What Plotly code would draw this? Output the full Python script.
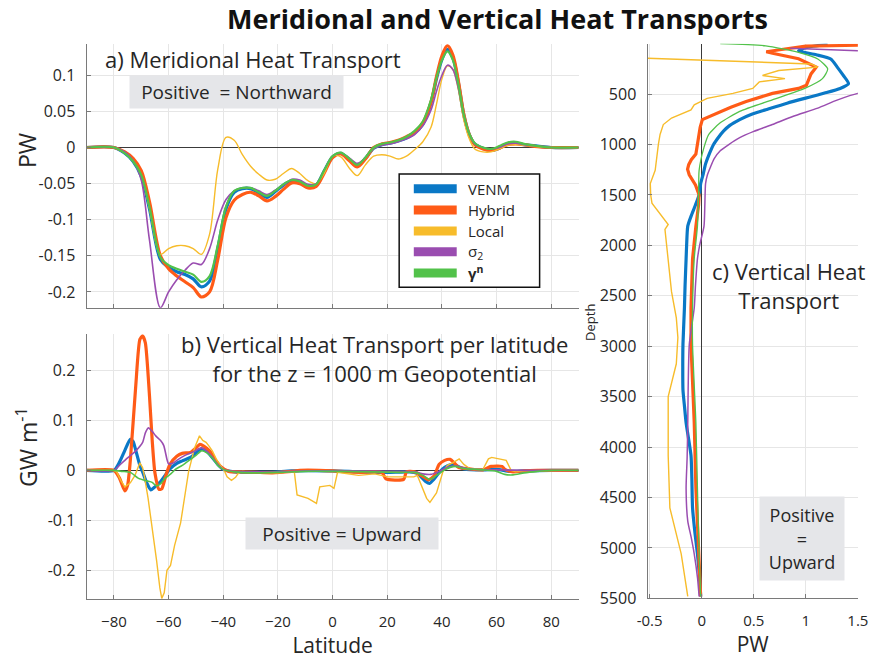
import plotly.graph_objects as go

# ---------------- data ----------------
# a) meridional heat transport (PW) vs latitude
a_lat = [-90, -80, -76, -73, -70, -67, -63, -60, -57, -54, -51, -48, -45, -42, -39, -36, -33, -30,
         -27, -24, -21, -18, -15, -12, -9, -6, -3, 0, 3, 6, 9, 12, 15, 18, 21, 24, 27, 30, 33, 36,
         38, 40, 42, 44, 46, 48, 50, 52, 55, 58, 61, 64, 67, 70, 75, 80, 90]
a_venm = [0, 0, -0.008, -0.019, -0.040, -0.085, -0.155, -0.166, -0.172, -0.176, -0.182, -0.193, -0.185,
          -0.140, -0.085, -0.062, -0.057, -0.057, -0.063, -0.069, -0.061, -0.052, -0.046, -0.048, -0.054,
          -0.052, -0.032, -0.013, -0.008, -0.016, -0.025, -0.015, -0.001, 0.004, 0.006, 0.009, 0.013,
          0.020, 0.032, 0.062, 0.095, 0.122, 0.136, 0.124, 0.090, 0.045, 0.018, 0.005, -0.001, -0.004,
          -0.001, 0.005, 0.006, 0.004, 0.002, 0, 0]
a_hybrid = [0, 0, -0.006, -0.015, -0.032, -0.075, -0.150, -0.168, -0.178, -0.186, -0.194, -0.207, -0.200,
            -0.155, -0.097, -0.073, -0.065, -0.062, -0.067, -0.074, -0.068, -0.058, -0.049, -0.050, -0.056,
            -0.054, -0.035, -0.014, -0.009, -0.018, -0.027, -0.016, 0.000, 0.005, 0.007, 0.010, 0.015,
            0.021, 0.034, 0.063, 0.098, 0.127, 0.141, 0.128, 0.092, 0.046, 0.018, 0.004, -0.002, -0.004,
            -0.001, 0.004, 0.005, 0.004, 0.001, 0, 0]
a_local = [0, 0, -0.008, -0.019, -0.038, -0.085, -0.148, -0.140, -0.136, -0.136, -0.140, -0.148, -0.120,
           -0.030, 0.014, 0.010, -0.010, -0.026, -0.037, -0.045, -0.044, -0.036, -0.029, -0.036, -0.046,
           -0.050, -0.035, -0.012, -0.013, -0.028, -0.039, -0.024, -0.012, -0.010, -0.012, -0.016, -0.012,
           -0.003, 0.008, 0.028, 0.060, 0.095, 0.113, 0.108, 0.080, 0.038, 0.012, -0.002, -0.006, -0.006,
           -0.002, 0.003, 0.004, 0.003, 0.001, 0, 0]
a_sigma2 = [0, 0, -0.006, -0.018, -0.045, -0.128, -0.222, -0.200, -0.183, -0.170, -0.160, -0.162, -0.140,
            -0.100, -0.072, -0.060, -0.056, -0.056, -0.060, -0.065, -0.059, -0.052, -0.044, -0.045, -0.051,
            -0.050, -0.031, -0.012, -0.008, -0.014, -0.022, -0.014, -0.001, 0.003, 0.005, 0.008, 0.012,
            0.018, 0.030, 0.052, 0.078, 0.100, 0.114, 0.108, 0.082, 0.044, 0.018, 0.005, 0.000, -0.002,
            0.000, 0.005, 0.006, 0.004, 0.002, 0, 0]
a_gamma = [0, 0, -0.008, -0.019, -0.038, -0.082, -0.152, -0.163, -0.168, -0.172, -0.176, -0.186, -0.178,
           -0.135, -0.082, -0.060, -0.056, -0.056, -0.062, -0.067, -0.060, -0.051, -0.045, -0.047, -0.053,
           -0.051, -0.031, -0.012, -0.007, -0.015, -0.024, -0.014, 0.000, 0.005, 0.007, 0.010, 0.015,
           0.023, 0.036, 0.066, 0.097, 0.121, 0.133, 0.121, 0.088, 0.045, 0.019, 0.006, 0.000, -0.002,
           0.002, 0.007, 0.008, 0.005, 0.002, 0, 0]

# b) vertical heat transport per latitude at z = 1000 m (GW m-1), (latitude, value)
b_venm = [(-90, 0), (-80, 0), (-78, 0.016), (-76, 0.040), (-74, 0.062), (-73, 0.058), (-72, 0.040),
          (-70.5, 0.010), (-69.5, -0.003), (-68, -0.025), (-66.5, -0.039), (-65, -0.033), (-63, -0.023),
          (-61, -0.008), (-59.5, 0.003), (-57, 0.014), (-55, 0.019), (-52, 0.026), (-50, 0.035),
          (-48, 0.043), (-46, 0.038), (-44.5, 0.029), (-42, 0.012), (-40, 0.002), (-36, -0.003),
          (-28, -0.004), (-22, -0.004), (-15, -0.001), (0, -0.001), (10, -0.003), (20, -0.004),
          (28, -0.003), (31, -0.006), (34, -0.022), (35.5, -0.026), (37, -0.018), (39, -0.004),
          (41, 0.006), (43, 0.011), (45, 0.010), (48, 0.003), (55, 0.001), (60, 0.002), (65, -0.002),
          (70, -0.001), (80, 0), (90, 0)]
b_hybrid = [(-90, 0), (-80, 0), (-78, -0.015), (-76, -0.041), (-75, -0.030), (-74, 0.020), (-72, 0.170),
            (-70.5, 0.262), (-69.5, 0.269), (-68.5, 0.255), (-67, 0.150), (-66, 0.060), (-65, -0.005),
            (-63.5, -0.038), (-62.5, -0.037), (-61, -0.010), (-59.5, 0.012), (-57, 0.028), (-55, 0.034),
            (-52, 0.036), (-50, 0.045), (-48.5, 0.052), (-47, 0.048), (-45, 0.039), (-43, 0.022),
            (-41, 0.008), (-38, -0.002), (-34, -0.003), (-28, -0.004), (-22, -0.005), (-15, -0.002),
            (-12, 0.000), (0, -0.001), (5, -0.003), (10, -0.004), (18, -0.004), (19.5, -0.017),
            (26, -0.018), (27, -0.003), (30, -0.003), (33, -0.012), (35, -0.019), (37, -0.012),
            (39, 0.012), (41, 0.020), (43, 0.022), (44.5, 0.015), (46, 0.006), (50, 0.003), (55, 0.001),
            (57, 0.006), (58, 0.008), (62, 0.008), (63, 0.002), (66, -0.003), (70, -0.001), (75, 0),
            (90, 0)]
b_local = [(-90, 0), (-80, 0), (-79, -0.003), (-77.5, -0.020), (-76, -0.033), (-74, -0.025),
           (-72.3, -0.010), (-71, 0.008), (-70.5, 0.015), (-69.5, 0.005), (-68.9, -0.010),
           (-67.5, -0.056), (-65.8, -0.121), (-64.4, -0.180), (-63.2, -0.235), (-62.5, -0.256),
           (-61.6, -0.245), (-60.6, -0.200), (-59.3, -0.190), (-57.8, -0.150), (-55.6, -0.105),
           (-54, -0.050), (-52.7, -0.003), (-50.5, 0.045), (-48.7, 0.069), (-47.5, 0.060),
           (-46.3, 0.056), (-45, 0.047), (-44, 0.039), (-42.5, 0.022), (-41, 0.010), (-39.5, -0.002),
           (-38.6, -0.013), (-37, -0.020), (-35.5, -0.014), (-34.5, -0.006), (-33, -0.002),
           (-28, -0.004), (-20, -0.005), (-14, -0.003), (-13, -0.049), (-9, -0.056), (-5.9, -0.066),
           (-4.7, -0.033), (-1, -0.030), (0.5, -0.036), (1.8, -0.004), (4, -0.006), (9.5, -0.010),
           (15.4, -0.007), (20.2, -0.013), (26, -0.013), (29.7, -0.013), (31, -0.010), (32.5, -0.030),
           (34.4, -0.056), (35.6, -0.064), (38, -0.045), (40.4, -0.002), (42, 0.010), (43.9, 0.015),
           (46.3, 0.023), (48, 0.012), (50, 0.004), (55, 0.002), (56, 0.012), (57, 0.023),
           (58.2, 0.026), (63.5, 0.020), (65.3, 0.000), (67, -0.003), (70, -0.001), (80, 0), (90, 0)]
b_sigma2 = [(-90, 0), (-80, 0), (-78, 0.010), (-75, 0.025), (-72, 0.039), (-69.5, 0.056), (-68.5, 0.075),
            (-67.4, 0.085), (-66, 0.078), (-64.7, 0.069), (-63, 0.060), (-61.8, 0.050), (-60.5, 0.020),
            (-60, 0.013), (-58.5, 0.014), (-57, 0.020), (-54, 0.030), (-51, 0.037), (-48, 0.045),
            (-45, 0.033), (-42, 0.012), (-40, 0.002), (-36, -0.002), (-28, -0.003), (-20, -0.003),
            (-10, -0.001), (0, -0.001), (20, -0.002), (30, -0.003), (33, -0.007), (36, -0.008),
            (39, -0.002), (42, 0.006), (45, 0.009), (48, 0.005), (52, 0.002), (60, 0.001), (70, 0),
            (90, 0)]
b_gamma = [(-90, 0), (-80, 0), (-77, -0.002), (-74, -0.004), (-71, -0.016), (-68, -0.021), (-66, -0.024),
           (-64.5, -0.031), (-63, -0.027), (-61.5, -0.017), (-59, -0.006), (-57.5, 0.002), (-55, 0.010),
           (-52, 0.022), (-50, 0.030), (-48, 0.039), (-46, 0.035), (-44, 0.025), (-42, 0.010),
           (-40, 0.002), (-36, -0.003), (-28, -0.005), (-20, -0.004), (-10, -0.002), (0, -0.002),
           (15, -0.003), (25, -0.004), (30, -0.004), (33, -0.010), (35.5, -0.018), (38, -0.010),
           (41, 0.001), (43, 0.006), (45, 0.008), (48, 0.004), (55, 0.001), (60, -0.002), (63, -0.008),
           (66, -0.009), (70, -0.005), (75, -0.002), (80, 0), (90, 0)]

# c) vertical heat transport (PW) vs depth (m), (depth, value)
c_venm = [(6, 1.21), (40, 1.00), (71, 0.93), (110, 1.10), (152, 1.24), (230, 1.30), (315, 1.36),
          (396, 1.41), (444, 1.33), (490, 1.18), (526, 1.05), (590, 0.82), (656, 0.615), (700, 0.48),
          (753, 0.365), (810, 0.27), (867, 0.209), (930, 0.16), (997, 0.115), (1100, 0.07),
          (1192, 0.037), (1290, 0.015), (1387, -0.010), (1484, -0.020), (1600, -0.060), (1712, -0.103),
          (1809, -0.134), (2000, -0.145), (2134, -0.150), (2400, -0.160), (2621, -0.166),
          (2979, -0.180), (3200, -0.182), (3434, -0.180), (3600, -0.165), (3758, -0.150),
          (4083, -0.103), (4300, -0.095), (4603, -0.088), (4850, -0.065), (5058, -0.041),
          (5300, -0.020), (5481, -0.010)]
c_hybrid = [(0, 2.5), (18, 1.6), (24, 1.0), (60, 0.75), (80, 0.62), (95, 0.68), (150, 0.93), (233, 1.10),
            (300, 1.05), (412, 1.006), (444, 0.93), (493, 0.68), (530, 0.56), (574, 0.427), (630, 0.28),
            (688, 0.146), (753, 0.006), (830, -0.015), (899, -0.025), (1000, -0.035), (1094, -0.056),
            (1150, -0.100), (1200, -0.125), (1245, -0.136), (1300, -0.120), (1400, -0.060),
            (1500, -0.025), (1600, -0.030), (1809, -0.056), (2134, -0.088), (2621, -0.103),
            (2979, -0.103), (3758, -0.072), (4408, -0.056), (5058, -0.031), (5481, -0.010)]
c_local = [(130, -1.2), (145, -0.52), (201, 1.05), (233, 1.115), (266, 0.74), (315, 0.584), (347, 0.80),
           (379, 0.553), (444, 0.49), (493, 0.30), (542, 0.052), (607, -0.072), (656, -0.103),
           (700, -0.20), (737, -0.29), (802, -0.369), (900, -0.40), (997, -0.416), (1256, -0.447),
           (1387, -0.494), (1500, -0.490), (1582, -0.478), (1712, -0.384), (1793, -0.322),
           (1842, -0.353), (2134, -0.322), (2459, -0.290), (2719, -0.244), (2914, -0.229),
           (3174, -0.244), (3498, -0.322), (4083, -0.322), (4603, -0.306), (5058, -0.197),
           (5481, -0.134)]
c_sigma2 = [(45, 0.85), (71, 1.5), (100, 2.2), (250, 2.8), (400, 2.2), (470, 1.7), (493, 1.5), (560, 1.3),
            (639, 1.115), (720, 0.88), (802, 0.678), (870, 0.50), (932, 0.365), (1000, 0.26),
            (1062, 0.178), (1140, 0.12), (1224, 0.084), (1300, 0.055), (1387, 0.037), (1600, 0.030),
            (1809, 0.022), (2000, -0.020), (2134, -0.041), (2400, -0.060), (2621, -0.072),
            (2979, -0.119), (3400, -0.130), (3758, -0.134), (4100, -0.140), (4408, -0.150),
            (4733, -0.134), (4900, -0.100), (5058, -0.072), (5300, -0.040), (5481, -0.025)]
c_gamma = [(0, 0.178), (22, 0.615), (87, 0.93), (152, 1.115), (250, 1.21), (347, 1.16), (444, 0.99),
           (558, 0.678), (672, 0.365), (785, 0.178), (899, 0.068), (1029, 0.022), (1256, -0.025),
           (1500, -0.030), (1809, -0.041), (2134, -0.072), (2621, -0.088), (2979, -0.088),
           (3758, -0.056), (4408, -0.041), (5058, -0.025), (5481, -0.010)]

series = ["VENM", "Hybrid", "Local", "σ<sub>2</sub>", "<b>γ<sup>n</sup></b>"]
colors = ["#0A78C6", "#FF5B17", "#F7BC2B", "#9A4DB0", "#52C24A"]

lat_ticks = [-80, -60, -40, -20, 0, 20, 40, 60, 80]
a_yticks = [-0.2, -0.15, -0.1, -0.05, 0, 0.05, 0.1]
a_ylabels = ["-0.2", "-0.15", "-0.1", "-0.05", "0", "0.05", "0.1"]
b_yticks = [-0.2, -0.1, 0, 0.1, 0.2]
b_ylabels = ["-0.2", "-0.1", "0", "0.1", "0.2"]
c_xticks = [-0.5, 0, 0.5, 1, 1.5]
c_xlabels = ["-0.5", "0", "0.5", "1", "1.5"]
depth_ticks = [500, 1000, 1500, 2000, 2500, 3000, 3500, 4000, 4500, 5000, 5500]

# ---------------- figure ----------------
W, H = 891, 662
FONT = "Open Sans"
TXT = "#262626"


def px(x):
    return x / W


def py(y):
    return 1 - y / H


fig = go.Figure()

a_vals = [a_venm, a_hybrid, a_local, a_sigma2, a_gamma]
a_widths = [3.2, 3.2, 1.4, 1.6, 2.2]
for name, vals, col, w in zip(series, a_vals, colors, a_widths):
    fig.add_trace(go.Scatter(x=a_lat, y=vals, mode="lines", name=name, showlegend=False,
                             line=dict(color=col, width=w, shape="spline", smoothing=0.9),
                             xaxis="x", yaxis="y"))

b_vals = [b_venm, b_hybrid, b_local, b_sigma2, b_gamma]
b_widths = [3.2, 3.2, 1.4, 1.6, 1.6]
for i, (name, pts, col, w) in enumerate(zip(series, b_vals, colors, b_widths)):
    lat, val = zip(*pts)
    shape = "linear" if i == 2 else "spline"
    fig.add_trace(go.Scatter(x=list(lat), y=list(val), mode="lines", name=name, showlegend=False,
                             line=dict(color=col, width=w, shape=shape, smoothing=0.6),
                             xaxis="x2", yaxis="y2"))

c_vals = [c_venm, c_hybrid, c_local, c_sigma2, c_gamma]
c_widths = [3.2, 3.2, 1.4, 1.5, 1.3]
for i, (name, pts, col, w) in enumerate(zip(series, c_vals, colors, c_widths)):
    dep, val = zip(*pts)
    shape = "linear" if i in (1, 2) else "spline"
    fig.add_trace(go.Scatter(x=list(val), y=list(dep), mode="lines", name=name, showlegend=False,
                             line=dict(color=col, width=w, shape=shape, smoothing=0.6),
                             xaxis="x3", yaxis="y3"))

axis_common = dict(showline=True, linecolor="#7a7a7a", linewidth=1.2, ticks="inside", ticklen=4,
                   tickcolor="#7a7a7a", showgrid=True, gridcolor="#e6e6e6", gridwidth=1,
                   mirror=False)
xstyle = dict(ticklabelstandoff=9, tickfont=dict(family=FONT, size=15, color=TXT))
ystyle = dict(ticklabelstandoff=7, tickfont=dict(family=FONT, size=16, color=TXT))
xtitle_font = dict(family=FONT, size=21, color=TXT)

dom_x_left = [px(77.5), px(582)]
fig.update_layout(
    width=W, height=H,
    margin=dict(l=0, r=0, t=0, b=0),
    paper_bgcolor="white", plot_bgcolor="white",
    font=dict(family=FONT, color=TXT),
    showlegend=False,
    xaxis=dict(axis_common, **xstyle, domain=dom_x_left, range=[-90, 90], tickvals=lat_ticks,
               showticklabels=False, zeroline=False, anchor="y"),
    yaxis=dict(axis_common, **ystyle, domain=[py(313), py(45)], range=[-0.222, 0.143],
               tickvals=a_yticks, ticktext=a_ylabels, zeroline=True, zerolinecolor="#3a3a3a",
               zerolinewidth=1, anchor="x"),
    xaxis2=dict(axis_common, **xstyle, domain=dom_x_left, range=[-90, 90], tickvals=lat_ticks,
                zeroline=False, anchor="y2",
                title=dict(text="Latitude", font=xtitle_font, standoff=3)),
    yaxis2=dict(axis_common, **ystyle, domain=[py(609), py(340)], range=[-0.257, 0.272],
                tickvals=b_yticks, ticktext=b_ylabels, zeroline=True, zerolinecolor="#3a3a3a",
                zerolinewidth=1, anchor="x2"),
    xaxis3=dict(axis_common, **xstyle, domain=[px(652.7), px(868.3)], range=[-0.52, 1.5],
                tickvals=c_xticks, ticktext=c_xlabels, zeroline=True, zerolinecolor="#3a3a3a",
                zerolinewidth=1.2, anchor="y3",
                title=dict(text="PW", font=xtitle_font, standoff=3)),
    yaxis3=dict(axis_common, **ystyle, domain=[py(608.5), py(44.4)], range=[5500, 0],
                tickvals=depth_ticks, zeroline=False, anchor="x3"),
)

# legend box for panel a: frame, thick colour swatches and series names
shapes = [dict(type="rect", xref="paper", yref="paper", x0=px(398), x1=px(542), y0=py(292), y1=py(177),
               line=dict(color="#111111", width=1.5), fillcolor="white", layer="above")]
ann = []
row_y = [192, 213.5, 235, 256, 277.5]
for name, col, ry in zip(series, colors, row_y):
    shapes.append(dict(type="line", xref="paper", yref="paper", x0=px(413), x1=px(457),
                       y0=py(ry), y1=py(ry), line=dict(color=col, width=9), layer="above"))
    ann.append(dict(text=name, x=px(468), y=py(ry), xanchor="left", font=dict(size=15)))
fig.update_layout(shapes=shapes)

ann.append(dict(text="<b>Meridional and Vertical Heat Transports</b>", x=px(499), y=py(19),
                font=dict(size=27, color="#111111")))
ann.append(dict(text="a) Meridional Heat Transport", x=px(248), y=py(60), font=dict(size=22)))
ann.append(dict(text="Positive  = Northward", x=px(231), y=py(94), font=dict(size=19),
                bgcolor="#e5e6e9", width=213, height=32, borderpad=0))
ann.append(dict(text="b) Vertical Heat Transport per latitude<br>for the z = 1000 m Geopotential",
                x=px(373), y=py(365), font=dict(size=22)))
ann.append(dict(text="Positive = Upward", x=px(339), y=py(543), font=dict(size=19),
                bgcolor="#e5e6e9", width=192, height=31, borderpad=0))
ann.append(dict(text="c) Vertical Heat<br>Transport", x=px(797), y=py(290), font=dict(size=22)))
ann.append(dict(text="Positive<br>=<br>Upward", x=px(811), y=py(548), font=dict(size=18),
                bgcolor="#e5e6e9", width=84, height=83, borderpad=0))
ann.append(dict(text="PW", x=px(17), y=py(153), textangle=-90, font=dict(size=23)))
ann.append(dict(text="GW m<sup>-1</sup>", x=px(17), y=py(455), textangle=-90, font=dict(size=23)))
ann.append(dict(text="Depth", x=px(593), y=py(328), textangle=-90, font=dict(size=13)))
for a in ann:
    a.update(xref="paper", yref="paper", showarrow=False, borderpad=a.get("borderpad", 0))
    a.setdefault("yanchor", "middle")
    a.setdefault("xanchor", "center")
    a["font"].setdefault("family", FONT)
    a["font"].setdefault("color", TXT)
fig.update_layout(annotations=ann)

fig.write_html("out.html")
